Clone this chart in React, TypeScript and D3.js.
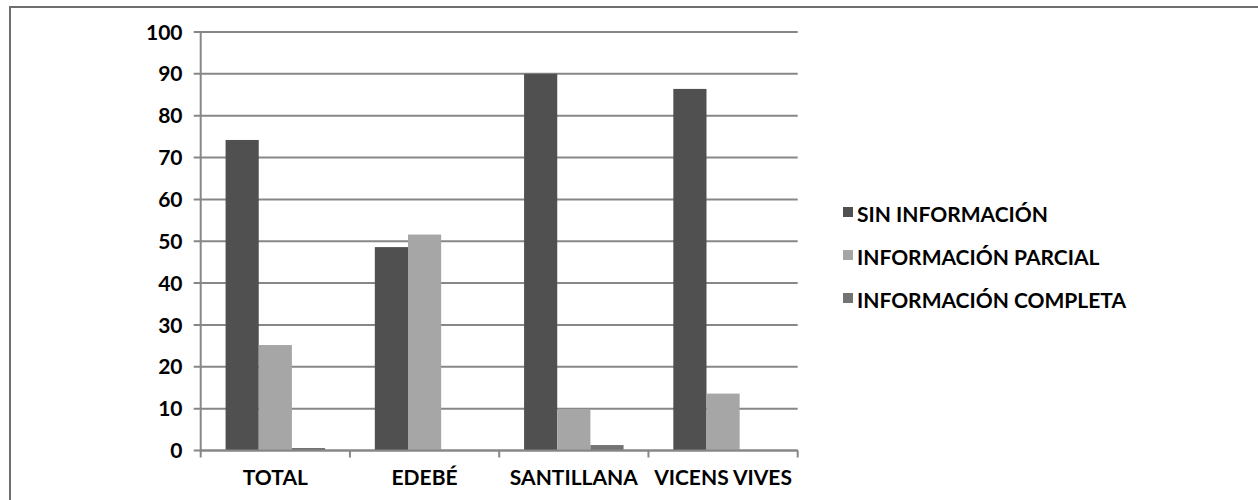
import React from "react";
import * as d3 from "d3";

const categories = ["TOTAL", "EDEBÉ", "SANTILLANA", "VICENS VIVES"];
const seriesNames = ["SIN INFORMACIÓN", "INFORMACIÓN PARCIAL", "INFORMACIÓN COMPLETA"];
const sinInformacion = [74.2, 48.6, 90.0, 86.4];
const informacionParcial = [25.2, 51.6, 9.7, 13.6];
const informacionCompleta = [0.6, 0, 1.3, 0];
const yTicks = [0, 10, 20, 30, 40, 50, 60, 70, 80, 90, 100];

const seriesValues = [sinInformacion, informacionParcial, informacionCompleta];
const colors = ["#505050", "#a6a6a6", "#737373"];

const W = 1258;
const H = 500;
const plotLeft = 200.7;
const plotRight = 797.7;
const plotTop = 32;
const plotBottom = 450.5;
const font = "Lato, 'Open Sans', sans-serif";
const gridColor = "#878787";
const fs = 21;

export default function App() {
  const x = d3.scaleBand<string>().domain(categories).range([plotLeft, plotRight]).paddingInner(0).paddingOuter(0);
  const y = d3.scaleLinear().domain([0, 100]).range([plotBottom, plotTop]);
  const bw = x.bandwidth();
  const barW = bw / 4.5;
  const pad = barW * 0.75;
  const xs = d3.scaleBand<number>().domain([0, 1, 2]).range([pad, bw - pad]).padding(0);

  const boundaries = categories.map((c) => x(c) as number).concat([plotRight]);

  return (
    <>
      <style>{`body{margin:0;background:#fff}`}</style>
      <svg width={W} height={H} style={{ display: "block" }} fontFamily={font}>
        <rect x={0} y={0} width={W} height={H} fill="#fff" />
        {/* frame */}
        <path d={`M${W + 5},7 L10,7 L10,${H + 5}`} fill="none" stroke="#6f6f6f" strokeWidth={2} />
        {/* gridlines and y ticks */}
        {yTicks.map((t) => (
          <g key={t}>
            <line x1={plotLeft - 7} x2={plotRight} y1={y(t)} y2={y(t)} stroke={gridColor} strokeWidth={2} />
            <text x={182.5} y={y(t)} dy="0.36em" textAnchor="end" fontSize={fs} fontWeight={700} fill="#000">
              {t}
            </text>
          </g>
        ))}
        {/* bars */}
        {categories.map((c, ci) => (
          <g key={c} transform={`translate(${x(c)},0)`}>
            {seriesValues.map((vals, si) =>
              vals[ci] > 0 ? (
                <rect
                  key={si}
                  x={xs(si) as number}
                  width={xs.bandwidth()}
                  y={y(vals[ci])}
                  height={y(0) - y(vals[ci])}
                  fill={colors[si]}
                />
              ) : null
            )}
          </g>
        ))}
        {/* y axis */}
        <line x1={plotLeft} x2={plotLeft} y1={plotTop - 1} y2={plotBottom + 1} stroke={gridColor} strokeWidth={2} />
        {/* x axis */}
        <line x1={plotLeft} x2={plotRight} y1={y(0)} y2={y(0)} stroke={gridColor} strokeWidth={2} />
        {boundaries.map((b, i) => (
          <line key={i} x1={b} x2={b} y1={y(0)} y2={y(0) + 7} stroke={gridColor} strokeWidth={2} />
        ))}
        {categories.map((c) => (
          <text
            key={c}
            x={(x(c) as number) + bw / 2}
            y={484.5}
            textAnchor="middle"
            fontSize={fs}
            fontWeight={700}
            fill="#000"
          >
            {c}
          </text>
        ))}
        {/* legend */}
        {seriesNames.map((n, i) => (
          <g key={n} transform={`translate(843,${207 + i * 43})`}>
            <rect x={0} y={0} width={10} height={10} fill={colors[i]} />
            <text x={14} y={15} fontSize={fs} fontWeight={700} fill="#000">
              {n}
            </text>
          </g>
        ))}
      </svg>
    </>
  );
}
